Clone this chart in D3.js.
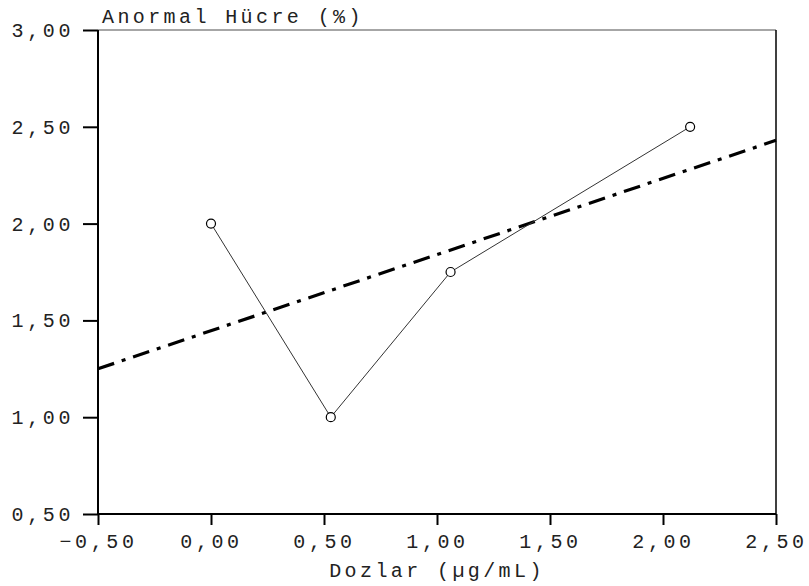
<!DOCTYPE html>
<html>
<head>
<meta charset="utf-8">
<script src="https://d3js.org/d3.v7.min.js"></script>
<style>
body { margin: 0; background: #fff; }
text { font-family: "Liberation Mono", "Courier New", monospace; fill: #222; }
</style>
</head>
<body>
<div id="chart"></div>
<script>
// data
var doses = [0, 0.53, 1.06, 2.12];
var cells = [2.0, 1.0, 1.75, 2.5];
var fitX = [-0.5, 2.5];
var fitY = [1.25, 2.43];
var xTicks = [-0.5, 0, 0.5, 1, 1.5, 2, 2.5];
var yTicks = [0.5, 1, 1.5, 2, 2.5, 3];

var W = 809, H = 586;
var margin = {top: 30, right: 33, bottom: 72, left: 98},
    width = W - margin.left - margin.right,
    height = H - margin.top - margin.bottom;

var svg = d3.select("#chart").append("svg")
    .attr("width", W)
    .attr("height", H)
  .append("g")
    .attr("transform", "translate(" + margin.left + "," + margin.top + ")");

var x = d3.scaleLinear().domain([-0.5, 2.5]).range([0, width]);
var y = d3.scaleLinear().domain([0.5, 3]).range([height, 0]);

var fmt = function(d) { return d3.format(".2f")(d).replace(".", ",").replace("-", "\u2212"); };

// frame: grey top, black right
svg.append("line")
  .attr("x1", 0).attr("x2", width).attr("y1", 0).attr("y2", 0)
  .attr("stroke", "#888").attr("stroke-width", 1.5);
svg.append("line")
  .attr("x1", width).attr("x2", width).attr("y1", 0).attr("y2", height)
  .attr("stroke", "#000").attr("stroke-width", 1.5);

// axes
var xAxis = svg.append("g")
  .attr("transform", "translate(0," + height + ")")
  .call(d3.axisBottom(x).tickValues(xTicks).tickFormat(fmt).tickSize(11).tickPadding(9));
var yAxis = svg.append("g")
  .call(d3.axisLeft(y).tickValues(yTicks).tickFormat(fmt).tickSize(15).tickPadding(9));

[xAxis, yAxis].forEach(function(a) {
  a.select(".domain").attr("stroke", "#000").attr("stroke-width", 2);
  a.selectAll(".tick line").attr("stroke", "#000").attr("stroke-width", 2);
  a.selectAll(".tick text")
    .style("font-family", "'Liberation Mono', monospace")
    .style("font-size", "20px")
    .style("letter-spacing", "3.6px")
    .attr("fill", "#222");
});
xAxis.select(".domain").attr("d", "M0,0H" + width);
yAxis.select(".domain").attr("d", "M0," + height + "V0");

// axis titles
svg.append("text")
  .attr("x", 4).attr("y", -7)
  .style("font-size", "20px")
  .style("letter-spacing", "3.4px")
  .text("Anormal Hücre (%)");

svg.append("text")
  .attr("x", x(1)).attr("y", height + 63)
  .attr("text-anchor", "middle")
  .style("font-size", "20px")
  .style("letter-spacing", "3.4px")
  .text("Dozlar (\u00b5g/mL)");

// fitted line, dash-dot
svg.append("path")
  .datum(fitX.map(function(d, i) { return [d, fitY[i]]; }))
  .attr("d", d3.line().x(function(d) { return x(d[0]); }).y(function(d) { return y(d[1]); }))
  .attr("fill", "none")
  .attr("stroke", "#000")
  .attr("stroke-width", 3.2)
  .attr("stroke-dasharray", "17,8,4,8");

// data line
var pts = doses.map(function(d, i) { return {x: d, y: cells[i]}; });
svg.append("path")
  .datum(pts)
  .attr("d", d3.line().x(function(d) { return x(d.x); }).y(function(d) { return y(d.y); }))
  .attr("fill", "none")
  .attr("stroke", "#333")
  .attr("stroke-width", 1);

svg.selectAll("circle")
  .data(pts)
  .enter()
  .append("circle")
    .attr("cx", function(d) { return x(d.x); })
    .attr("cy", function(d) { return y(d.y); })
    .attr("r", 4.5)
    .attr("fill", "#fff")
    .attr("stroke", "#000")
    .attr("stroke-width", 1.2);
</script>
</body>
</html>
